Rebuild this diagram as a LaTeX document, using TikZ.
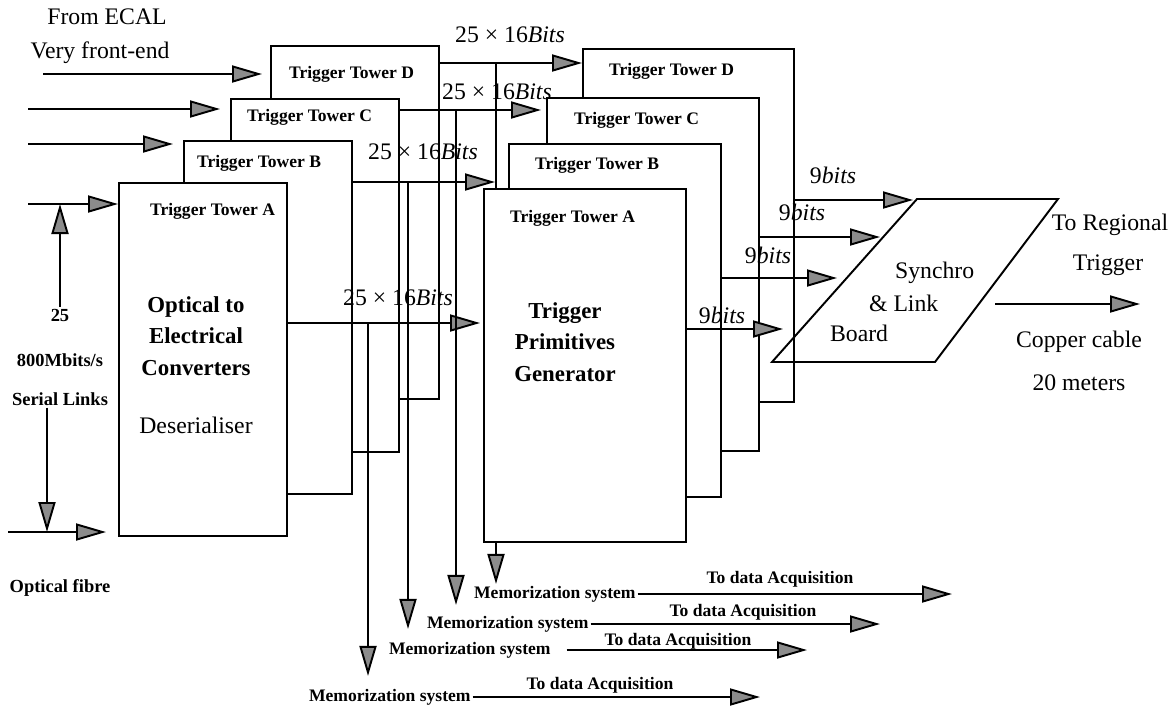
\documentclass[tikz,border=0pt]{standalone}
\usepackage{fontspec}
\setmainfont{Liberation Serif}
\usetikzlibrary{arrows.meta,positioning}

\tikzset{
    tower/.style={draw, fill=white, line width=1.1pt, anchor=north west,
        inner sep=0pt, minimum height=7.07cm},
    ttl/.style={anchor=west, inner sep=1pt, font=\bfseries\fontsize{10}{12}\selectfont},
    memo/.style={inner sep=1pt, font=\bfseries\fontsize{10}{12}\selectfont},
    big/.style={align=center, font=\bfseries\fontsize{13}{18}\selectfont},
    txt/.style={inner sep=1pt, font=\fontsize{13.5}{16}\selectfont},
    note/.style={inner sep=1pt, font=\bfseries\fontsize{10.5}{12}\selectfont},
    flow/.style={line width=1.1pt, -{Triangle[length=0.6cm, width=0.34cm, fill=black!45]}},
    wire/.style={line width=1.1pt}
}

\begin{document}
\begin{tikzpicture}[x=0.02cm, y=-0.02cm]
    \useasboundingbox (0,0) rectangle (1173,708);

    % optical to electrical boards
    \node[tower, minimum width=3.36cm] (lD) at (270,45) {};
    \node[ttl] (lDt) at (287,74) {Trigger Tower D};
    \node[tower, minimum width=3.36cm] (lC) at (230,98) {};
    \node[ttl] (lCt) at (245,117) {Trigger Tower C};
    \node[tower, minimum width=3.36cm] (lB) at (183,140) {};
    \node[ttl] (lBt) at (195,163) {Trigger Tower B};
    \node[tower, minimum width=3.36cm] (lA) at (118,182) {};
    \node[ttl] (lAt) at (148,211) {Trigger Tower A};
    \node[big] (conv) at (196,336) {Optical to\\Electrical\\Converters};
    \node[txt] (deser) at (196,425) {Deserialiser};

    % memorization outputs
    \node[memo, anchor=west] (mem1) at (472,594) {Memorization system};
    \node[memo, anchor=west] (mem2) at (425,624) {Memorization system};
    \node[memo, anchor=west] (mem3) at (387,650) {Memorization system};
    \node[memo, anchor=west] (mem4) at (307,697) {Memorization system};

    \coordinate (brD) at (496,63);
    \coordinate (brC) at (456,110);
    \coordinate (brB) at (408,182);
    \coordinate (brA) at (368,323);
    % D branch runs behind the primitives boards
    \draw[flow] (brD) -- (brD |- mem1.north);

    % trigger primitives boards
    \node[tower, minimum width=4.22cm] (rD) at (582,48) {};
    \node[ttl] (rDt) at (607,71) {Trigger Tower D};
    \node[tower, minimum width=4.24cm] (rC) at (546,97) {};
    \node[ttl] (rCt) at (572,120) {Trigger Tower C};
    \node[tower, minimum width=4.24cm] (rB) at (508,143) {};
    \node[ttl] (rBt) at (533,165) {Trigger Tower B};
    \node[tower, minimum width=4.04cm] (rA) at (483,188) {};
    \node[ttl] (rAt) at (508,218) {Trigger Tower A};
    \node[big] (tpg) at (565,342) {Trigger\\Primitives\\Generator};

    % inputs from the very front-end
    \node[txt] (ecal) at (107,17) {From ECAL};
    \node[txt] (vfe) at (100,53) {Very front-end};
    \coordinate (inD) at (43,74);
    \coordinate (inC) at (28,109);
    \coordinate (inB) at (28,144);
    \coordinate (inA) at (28,204);
    \draw[flow, shorten >=0.16cm] (inD) -- (lD.west |- inD);
    \draw[flow, shorten >=0.2cm] (inC) -- (lC.west |- inC);
    \draw[flow, shorten >=0.2cm] (inB) -- (lB.west |- inB);
    \draw[flow] (inA) -- (lA.west |- inA);

    \node[note] (n25) at (60,315) {25};
    \node[note] (rate) at (60,360) {800Mbits/s};
    \node[note] (links) at (60,399) {Serial Links};
    \node[note] (fibre) at (60,588) {Optical fibre};
    \draw[flow] (n25.north) -- (n25.north |- inA);
    \coordinate (fib) at (8,532);
    \coordinate (fibX) at (47,532);
    \draw[flow] (links.south -| fibX) -- (fibX);
    \draw[flow, shorten >=0.24cm] (fib) -- (fib -| lA.west);

    % 25 x 16 bits buses
    \draw[flow] (lD.east |- brD) -- (rD.west |- brD);
    \draw[flow, shorten >=0.1cm] (lC.east |- brC) -- (rC.west |- brC);
    \draw[flow, shorten >=0.26cm] (lB.east |- brB) -- (rB.west |- brB);
    \draw[flow, shorten >=0.06cm] (lA.east |- brA) -- (rA.west |- brA);
    \node[txt] (busD) at (510,35) {25 × 16\textit{Bits}};
    \node[txt] (busC) at (497,92) {25 × 16\textit{Bits}};
    \node[txt] (busB) at (423,152) {25 × 16\textit{Bits}};
    \node[txt] (busA) at (398,298) {25 × 16\textit{Bits}};

    \draw[flow, shorten >=0.18cm] (brC) -- (brC |- mem2.north);
    \draw[flow, shorten >=0.22cm] (brB) -- (brB |- mem3.north);
    \draw[flow, shorten >=0.22cm] (brA) -- (brA |- mem4.north);

    % to data acquisition
    \coordinate (daq1) at (952,594);
    \coordinate (daq2) at (880,624);
    \coordinate (daq3) at (807,652);
    \coordinate (daq4) at (760,698);
    \draw[flow] (mem1.east) -- (mem1.east -| daq1);
    \draw[flow] (mem2.east) -- (mem2.east -| daq2);
    \draw[flow] ([xshift=0.28cm]mem3.east) -- (mem3.east -| daq3);
    \draw[flow] (mem4.east) -- (mem4.east -| daq4);
    \node[memo] (daq1t) at (780,579) {To data Acquisition};
    \node[memo] (daq2t) at (743,612) {To data Acquisition};
    \node[memo] (daq3t) at (678,641) {To data Acquisition};
    \node[memo] (daq4t) at (600,685) {To data Acquisition};

    % synchro and link board
    \coordinate (slbSW) at (772,362);
    \coordinate (slbNW) at (917,199);
    \coordinate (slbNE) at (1058,199);
    \coordinate (slbSE) at (935,362);
    \draw[wire] (slbSW) -- (slbNW) -- (slbNE) -- (slbSE) -- cycle;
    \node[txt, anchor=west] (syn) at (893,273) {Synchro};
    \node[txt, anchor=west] (lnk) at (867,303) {\& Link};
    \node[txt, anchor=west] (brd) at (828,333) {Board};

    \coordinate (snD) at (913,200);
    \coordinate (snC) at (880,237);
    \coordinate (snB) at (837,278);
    \coordinate (snA) at (783,329);
    \draw[flow] (rD.east |- snD) -- (snD);
    \draw[flow] (rC.east |- snC) -- (snC);
    \draw[flow] (rB.east |- snB) -- (snB);
    \draw[flow] (rA.east |- snA) -- (snA);
    \node[txt] (nbD) at (833,175) {9\textit{bits}};
    \node[txt] (nbC) at (802,212) {9\textit{bits}};
    \node[txt] (nbB) at (768,255) {9\textit{bits}};
    \node[txt] (nbA) at (722,315) {9\textit{bits}};

    % to regional trigger
    \node[txt] (reg) at (1110,225) {To Regional};
    \node[txt] (trg) at (1108,265) {Trigger};
    \coordinate (outS) at (995,304);
    \coordinate (outE) at (1140,304);
    \draw[flow] (outS) -- (outE);
    \node[txt] (cu) at (1079,342) {Copper cable};
    \node[txt] (len) at (1079,383) {20 meters};
\end{tikzpicture}
\end{document}
